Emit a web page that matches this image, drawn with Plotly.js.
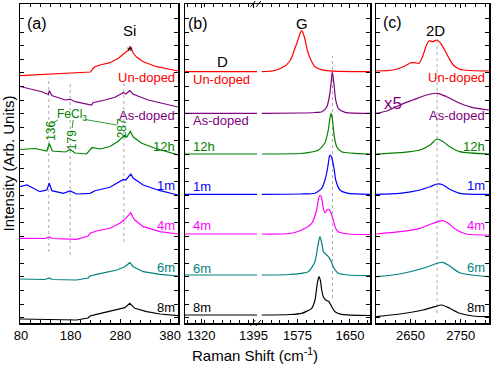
<!DOCTYPE html>
<html>
<head>
<meta charset="utf-8">
<script src="https://cdn.plot.ly/plotly-3.0.1.min.js"></script>
<style>html,body{margin:0;padding:0;background:#fff;}#chart{width:491px;height:367px;}</style>
</head>
<body>
<div id="chart"></div>
<script>
// ---- sample names / colours ----
const samples = ["Un-doped", "As-doped", "12h", "1m", "4m", "6m", "8m"];
const colors = ["#ff0000", "#800080", "#008000", "#0000ff", "#ff00ff", "#008080", "#000000"];

// ---- panel (a): low-frequency region (Raman shift, cm-1) ----
const aX = [
  [78, 110, 150, 199, 220, 224, 229, 239, 259, 276, 289, 296, 301, 306, 313, 326, 353, 396],
  [78, 122, 135, 137, 142, 169, 179, 189, 222, 225, 249, 269, 283, 286, 291, 299, 306, 336, 396],
  [78, 108, 132, 137, 143, 169, 179, 189, 212, 223, 239, 259, 275, 283, 288, 293, 300, 306, 323, 350, 396],
  [78, 92, 104, 118, 132, 137, 142, 165, 179, 192, 219, 229, 259, 279, 286, 291, 301, 306, 326, 360, 396],
  [78, 128, 137, 143, 192, 215, 219, 232, 259, 279, 289, 295, 301, 305, 309, 326, 360, 396],
  [78, 128, 137, 143, 192, 215, 219, 232, 273, 289, 299, 306, 326, 360, 396],
  [78, 158, 192, 215, 219, 232, 273, 289, 299, 305, 309, 333, 360, 396]
];
const aY = [
  [247.3, 248, 249, 250, 251, 254, 256.3, 258, 260.3, 264.7, 269.7, 273, 275.7, 269.7, 265.7, 261.3, 256.3, 252],
  [236.5, 231.3, 228.5, 232.3, 227.5, 223, 223.7, 221.3, 218, 220.3, 223, 225.7, 229.5, 230.5, 229, 232.5, 228.7, 223, 216],
  [173.5, 174.5, 172, 179.5, 172, 171, 173.5, 170, 169, 175.5, 174, 176.5, 181.5, 185, 187.5, 186, 191.5, 186, 179.7, 174.7, 168],
  [136.3, 138, 135, 131.3, 133, 139.7, 132.3, 129.7, 132, 129, 129.7, 132.3, 135.7, 141.3, 143.5, 143, 149, 144.7, 138, 132.3, 128],
  [84.7, 84.5, 86, 84.5, 83.7, 87, 89.7, 92, 94.7, 99.7, 103.7, 107, 110.3, 106, 103, 96.3, 91.3, 89],
  [44, 43.5, 45, 43.5, 43, 45, 47, 48.7, 53, 56.3, 60.3, 56.3, 51.3, 48.7, 47],
  [4, 3.7, 3, 5, 7, 8.7, 13, 15.3, 19.7, 17, 14.7, 11.3, 9, 7.3]
];
const fecl3Modes = [136, 179, 287];
const fecl3Top = [243, 240, 243];
const fecl3Bottom = [71, 68, 81];

// ---- panel (b): D region (left) and G region (right) ----
const bLeftX = [1297, 1350, 1400];
const bBase = [251.3, 209.7, 169, 128.7, 89, 48, 8];
const bX = [
  [1524, 1543, 1557, 1563, 1567, 1570, 1574, 1576.5, 1579, 1581, 1583.5, 1586, 1589, 1593, 1600, 1614, 1679],
  [1524, 1579, 1600, 1610, 1617, 1620.5, 1623, 1624.7, 1627, 1629.6, 1633.3, 1643, 1679],
  [1524, 1579, 1590, 1605, 1614, 1619, 1621.4, 1622.9, 1624.7, 1627.6, 1631, 1638, 1679],
  [1524, 1579, 1600, 1609.6, 1614.3, 1617.6, 1619.3, 1620.7, 1621.9, 1623.6, 1625.7, 1627.6, 1629.6, 1635.7, 1647.6, 1679],
  [1524, 1564, 1581, 1595.3, 1602.4, 1604.7, 1607.1, 1609.6, 1611.9, 1614.3, 1617.1, 1620, 1622.9, 1626.1, 1629.3, 1633.3, 1647.6, 1679],
  [1524, 1564, 1590.4, 1600, 1603.9, 1607.1, 1610, 1611.9, 1616.7, 1620, 1622.9, 1626.1, 1633.3, 1647, 1679],
  [1524, 1564, 1581, 1595.3, 1600, 1603.3, 1605.7, 1607.9, 1609.6, 1612.1, 1615.3, 1620, 1623.9, 1628.6, 1638.1, 1679]
];
const bY = [
  [251.3, 252.5, 257, 261, 266, 272, 279.5, 285, 290, 292.3, 289, 283, 273, 264.7, 256.3, 252.7, 251.3],
  [209.7, 210, 210.5, 211.3, 216.3, 226.3, 239.7, 251.3, 239.7, 223, 214.7, 210.7, 209.7],
  [169, 169.5, 170.3, 173, 179.7, 193, 204.7, 209.7, 204.7, 186.3, 176.3, 171.3, 169],
  [128.7, 129, 129.7, 134.7, 143, 153, 161, 167, 168, 166, 160, 153, 143, 133, 129.7, 128.7],
  [89, 89.5, 93, 99.7, 113, 123, 128, 124.7, 114.7, 110.3, 113, 113.7, 110, 103, 95, 91.3, 89, 88.5],
  [48, 48.5, 51.3, 61.3, 76.3, 86.3, 79, 71.3, 68, 65.7, 62, 56.3, 49.7, 48, 47.5],
  [8, 8.5, 9.7, 14.7, 23, 39.7, 46.3, 42, 33, 26, 23, 21.3, 16.3, 11.3, 8.7, 7.5]
];
const gDoped = 1625;

// ---- panel (c): 2D region ----
const cX = [
  [2582, 2616, 2636, 2652, 2659, 2667, 2674, 2682, 2687, 2694, 2703, 2710, 2718, 2725, 2735, 2748, 2806],
  [2582, 2603, 2629, 2655, 2682, 2703, 2722, 2748, 2774, 2806],
  [2582, 2629, 2669, 2689, 2703, 2715, 2728, 2748, 2806],
  [2582, 2629, 2669, 2689, 2703, 2715, 2728, 2748, 2806],
  [2582, 2629, 2669, 2695, 2714, 2725, 2742, 2761, 2806],
  [2582, 2629, 2675, 2699, 2714, 2728, 2748, 2806],
  [2582, 2629, 2675, 2699, 2712, 2728, 2748, 2774, 2806]
];
const cY = [
  [252, 253, 256.3, 260.3, 260.3, 259.7, 266.3, 278, 282.3, 281.3, 283, 279.7, 273, 266.3, 258, 253.7, 252],
  [209.7, 212, 218, 223, 228, 229.7, 226.3, 219.7, 215.3, 213],
  [169, 170.3, 173, 178, 184, 181.3, 176.3, 171.3, 169],
  [128.7, 129.7, 133, 136.3, 139, 138, 133.7, 129.7, 128.7],
  [89, 91.3, 94.7, 99.7, 102.3, 99.7, 93, 89, 88],
  [46.3, 49, 54.7, 59, 60.7, 57, 50.3, 46.3],
  [6.3, 9, 13, 16.3, 18, 14.7, 9.7, 7, 6.3]
];
const twoDpos = 2703;
const twoDTop = 283, twoDBottom = 10;
const gTop = 267, gBottom = 25;

// label heights (same intensity scale)
const labelY = [246, 208, 177, 138, 98, 56, 16];
const labelYb = [244, 203, 177, 137, 98, 55, 16];

const traces = [];
const dotStyle = {color: "#aaa", width: 1, dash: "dot"};
// reference dotted lines
fecl3Modes.forEach((m, i) => traces.push({x: [m, m], y: [fecl3Bottom[i], fecl3Top[i]], xaxis: "x", yaxis: "y", mode: "lines", line: dotStyle, hoverinfo: "skip"}));
traces.push({x: [gDoped, gDoped], y: [gBottom, gTop], xaxis: "x3", yaxis: "y3", mode: "lines", line: dotStyle, hoverinfo: "skip"});
traces.push({x: [twoDpos, twoDpos], y: [twoDBottom, twoDTop], xaxis: "x4", yaxis: "y4", mode: "lines", line: dotStyle, hoverinfo: "skip"});

samples.forEach((s, i) => {
  traces.push({x: aX[i], y: aY[i], xaxis: "x", yaxis: "y", mode: "lines", name: s, line: {color: colors[i], width: 1.2}});
  traces.push({x: bLeftX, y: bLeftX.map(() => bBase[i]), xaxis: "x2", yaxis: "y2", mode: "lines", name: s, line: {color: colors[i], width: 1.2}});
  traces.push({x: bX[i], y: bY[i], xaxis: "x3", yaxis: "y3", mode: "lines", name: s, line: {color: colors[i], width: 1.2, shape: "spline", smoothing: 0.6}});
  traces.push({x: cX[i], y: cY[i], xaxis: "x4", yaxis: "y4", mode: "lines", name: s, line: {color: colors[i], width: 1.2, shape: "spline", smoothing: 0.8}});
});

const W = 469; // plot width in px
const frame = {showline: true, linecolor: "#000", linewidth: 1.5, ticks: "inside", ticklen: 4, tickcolor: "#000", tickwidth: 1, zeroline: false, showgrid: false};
const yCommon = Object.assign({}, frame, {range: [0, 319], showticklabels: false, tickmode: "linear", tick0: 5.4, dtick: 13.6, fixedrange: true});
const tickFont = {family: "Liberation Sans, Arial, sans-serif", size: 13, color: "#000"};

const layout = {
  width: 491, height: 367,
  margin: {l: 20, r: 2, t: 4, b: 44},
  paper_bgcolor: "#fff", plot_bgcolor: "#fff",
  showlegend: false,
  font: {family: "Liberation Sans, Arial, sans-serif", size: 13, color: "#000"},
  xaxis: Object.assign({}, frame, {domain: [0, 158 / W], range: [78, 396], mirror: "ticks", tick0: 80, dtick: 100, tickfont: tickFont, minor: {dtick: 20, ticks: "inside", ticklen: 3, tickcolor: "#000"}}),
  xaxis2: Object.assign({}, frame, {domain: [165 / W, 238 / W], range: [1297, 1401.4], anchor: "y2", mirror: "ticks", tick0: 1320, dtick: 75, tickfont: tickFont, minor: {dtick: 12.5, ticks: "inside", ticklen: 3, tickcolor: "#000"}}),
  xaxis3: Object.assign({}, frame, {domain: [238 / W, 350 / W], range: [1518.6, 1678.6], anchor: "y3", mirror: "ticks", tick0: 1575, dtick: 75, tickfont: tickFont, minor: {dtick: 12.5, ticks: "inside", ticklen: 3, tickcolor: "#000"}}),
  xaxis4: Object.assign({}, frame, {domain: [356 / W, 1], range: [2581.7, 2806], anchor: "y4", mirror: "ticks", tick0: 2650, dtick: 100, tickfont: tickFont, minor: {dtick: 20, ticks: "inside", ticklen: 3, tickcolor: "#000"}}),
  yaxis: Object.assign({}, yCommon, {anchor: "x", mirror: "ticks",
    title: {text: "Intensity (Arb. Units)", font: {size: 15, family: "Liberation Sans, Arial, sans-serif"}, standoff: 2}}),
  yaxis2: Object.assign({}, yCommon, {anchor: "x2", side: "left"}),
  yaxis3: Object.assign({}, yCommon, {anchor: "x3", side: "right"}),
  yaxis4: Object.assign({}, yCommon, {anchor: "x4", mirror: "ticks"}),
  shapes: [],
  annotations: []
};

const ann = (xref, yref, x, y, text, color, size, extra) => Object.assign({xref, yref, x, y, text, showarrow: false, font: {color, size: size || 13, family: "Liberation Sans, Arial, sans-serif"}}, extra || {});

// sample labels
samples.forEach((s, i) => {
  layout.annotations.push(ann("x", "y", 393, labelY[i], s, colors[i], 13, {xanchor: "right"}));
  layout.annotations.push(ann("x2", "y2", 1306, labelYb[i], s, colors[i], 13, {xanchor: "left"}));
  layout.annotations.push(ann("x4", "y4", 2803, labelY[i], s, colors[i], 13, {xanchor: "right"}));
});
// panel letters & peak names
layout.annotations.push(ann("x", "y", 113, 300, "(a)", "#000", 16));
layout.annotations.push(ann("x2", "y2", 1316, 300, "(b)", "#000", 16));
layout.annotations.push(ann("x4", "y4", 2614, 301, "(c)", "#000", 16));
layout.annotations.push(ann("x", "y", 299, 283, "Si<br>*", "#000", 15));
layout.annotations.push(ann("x2", "y2", 1350, 262, "D", "#000", 15));
layout.annotations.push(ann("x3", "y3", 1581, 300, "G", "#000", 15));
layout.annotations.push(ann("x4", "y4", 2700, 293, "2D", "#000", 15));
layout.annotations.push(ann("x4", "y4", 2616, 220, "x5", "#800080", 17));
// FeCl3 mode labels
layout.annotations.push(ann("x", "y", 182, 208, "FeCl<sub>3</sub>", "#008000", 12));
const modeLabelY = [192, 183, 195];
fecl3Modes.forEach((m, i) => layout.annotations.push(ann("x", "y", m + (i === 2 ? -3 : 4), modeLabelY[i], String(m), "#008000", 12, {textangle: -90})));
// leader lines from FeCl3 label to the mode labels
const leader = [[154, 203, 142, 199.5], [185, 203, 183, 195], [209, 203.5, 273, 198]];
leader.forEach(l => layout.shapes.push({type: "line", xref: "x", yref: "y", x0: l[0], y0: l[1], x1: l[2], y1: l[3], line: {color: "#008000", width: 0.8}}));

// axis break marks on panel (b)
const bx = 238 / W;
[[1, 1], [0, 0]].forEach(([yy]) => {
  [-0.012, 0].forEach(dx => layout.shapes.push({type: "line", xref: "paper", yref: "paper", x0: bx + dx - 0.004, x1: bx + dx + 0.006, y0: yy - 0.009, y1: yy + 0.009, line: {color: "#000", width: 1}}));
});

// x title
layout.annotations.push(ann("paper", "paper", 235 / W, -0.1, "Raman Shift (cm<sup>-1</sup>)", "#000", 15, {yanchor: "middle"}));

Plotly.newPlot("chart", traces, layout, {staticPlot: true, displayModeBar: false});
</script>
</body>
</html>
